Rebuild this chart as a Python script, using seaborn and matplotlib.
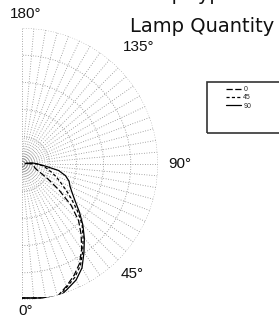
import numpy as np
import pandas as pd
import matplotlib
matplotlib.use("Agg")
import matplotlib.pyplot as plt
import seaborn as sns
from matplotlib.patches import Rectangle

# ---- data ----
angles = [0, 5, 10, 15, 20, 25, 30, 35, 40, 45, 50, 55, 60, 65, 70, 75, 80, 85, 90, 95, 100]
r_c0 = [134, 134.5, 136, 137, 130, 123, 115, 104, 92, 80, 64, 45, 30, 20, 15, 13, 12, 11, 10, 6, 2]
r_c45 = [134, 134.5, 136, 138, 131, 125, 117, 106, 95, 85, 72, 60, 50, 42, 36, 30, 25, 21, 15, 9, 3]
r_c90 = [134, 134.5, 136, 139, 133, 128, 120, 108, 97, 86, 75, 65, 58, 53, 50, 45, 37, 23, 16, 11, 4]
series_names = ["0", "45", "90"]
r_max = 136
angle_labels = [0, 45, 90, 135, 180]
title_top = "Lamp type"
title = "Lamp Quantity"

df = pd.concat([
    pd.DataFrame({"theta": np.deg2rad(angles), "r": vals, "series": name})
    for name, vals in zip(series_names, [r_c0, r_c45, r_c90])
], ignore_index=True)

sns.set_style("white")
plt.rcParams["font.family"] = ["Liberation Sans", "DejaVu Sans"]

W, H = 279, 325
fig = plt.figure(figsize=(W / 100, H / 100), dpi=100)
fig.patch.set_facecolor("white")

cx, cy, R = 22, 164, 136
S = 2 * R
ax = fig.add_axes([(cx - R / 2) / W, 1 - (cy + R) / H, S / W, S / H], projection="polar")
ax.set_theta_zero_location("S")
ax.set_theta_direction(1)
ax.set_thetamin(0)
ax.set_thetamax(180)
ax.set_rlim(0, r_max)
ax.set_facecolor("none")
ax.patch.set_edgecolor("none")

sns.lineplot(data=df, x="theta", y="r", style="series", style_order=series_names,
             dashes={"0": (5, 2), "45": (2.5, 1.8), "90": ""}, color="black",
             linewidth=0.9, sort=False, estimator=None, legend=False, ax=ax)

ax.set_thetagrids(np.arange(0, 181, 5), labels=[""] * 37)
ax.set_rgrids(np.linspace(r_max / 5, r_max, 5), labels=[""] * 5)
ax.grid(True, linestyle=(0, (1, 2)), color="#8a8a8a", linewidth=0.6)
ax.tick_params(axis="both", length=0, width=0)
for sp in ax.spines.values():
    sp.set_visible(False)
    sp.set_linewidth(0)
ax.set_xlabel("")
ax.set_ylabel("")

label_pos = {0: (1.5, 147), 45: (45, 156), 90: (90, 158), 135: (135, 165), 180: (178.5, 150)}
for a in angle_labels:
    th, rr = label_pos[a]
    ax.text(np.deg2rad(th), rr, f"{a}°", ha="center", va="center",
            fontsize=11, color="#111111", clip_on=False)

fig.text(130 / W, 1 + 0.5 / H, title_top, ha="left", va="baseline",
         fontsize=14, family="DejaVu Sans", color="#111111")
fig.text(130 / W, 1 - 32 / H, title, ha="left", va="baseline",
         fontsize=14, family="DejaVu Sans", color="#111111")

# legend box
fig.patches.append(Rectangle((207 / W, 1 - 133 / H), 90 / W, 51 / H,
                             transform=fig.transFigure, fill=False,
                             edgecolor="#333333", linewidth=1.2))
handles = ax.get_lines()[:3]
fig.legend(handles, series_names, loc="upper left",
           bbox_to_anchor=(226 / W, 1 - 86 / H), frameon=False, fontsize=5,
           handlelength=2.2, handletextpad=0.3, labelspacing=0.2,
           borderpad=0, borderaxespad=0)

fig.savefig("out.png", dpi=100)
